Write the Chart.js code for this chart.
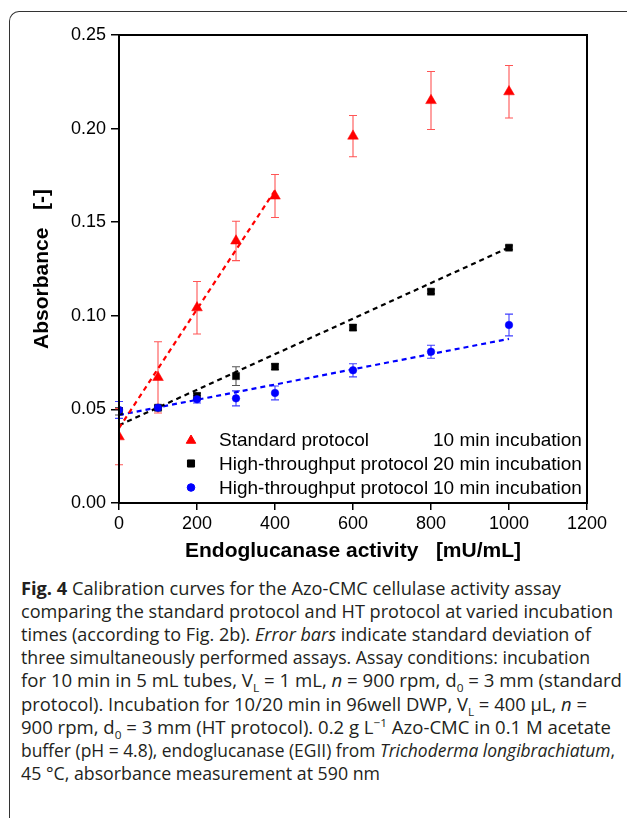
<!DOCTYPE html>
<html><head><meta charset="utf-8">
<script src="https://cdn.jsdelivr.net/npm/chart.js@4.4.0/dist/chart.umd.min.js"></script>
<style>
html,body{margin:0;padding:0;background:#fff;width:627px;height:818px;overflow:hidden;}
#frame{position:absolute;left:9px;top:11px;width:640px;height:900px;border-left:1.5px solid #333;border-top:1.5px solid #333;border-top-left-radius:10px;}
#wrap{position:absolute;left:0;top:0;width:627px;height:570px;}
#caption{position:absolute;left:21px;top:577px;font-family:'Open Sans',sans-serif;font-size:18px;color:#231f20;}
.ln{position:absolute;left:0;white-space:nowrap;transform-origin:0 0;line-height:23.1px;height:23.1px;}
.ln sub,.ln sup{font-size:11.5px;line-height:0;}
b{font-weight:700;}
</style>
</head><body>
<div id="frame"></div>
<div id="wrap"><canvas id="c" width="627" height="570"></canvas></div>
<div id="caption">
<div class="ln" style="top:0px"><b>Fig. 4</b> Calibration curves for the Azo-CMC cellulase activity assay</div>
<div class="ln" style="top:23.1px">comparing the standard protocol and HT protocol at varied incubation</div>
<div class="ln" style="top:46.2px">times (according to Fig. 2b). <i>Error bars</i> indicate standard deviation of</div>
<div class="ln" style="top:69.3px">three simultaneously performed assays. Assay conditions: incubation</div>
<div class="ln" style="top:92.4px">for 10 min in 5 mL tubes, V<sub>L</sub> = 1 mL, <i>n</i> = 900 rpm, d<sub>0</sub> = 3 mm (standard</div>
<div class="ln" style="top:115.5px">protocol). Incubation for 10/20 min in 96well DWP, V<sub>L</sub> = 400 μL, <i>n</i> =</div>
<div class="ln" style="top:138.6px">900 rpm, d<sub>0</sub> = 3 mm (HT protocol). 0.2 g L<sup>−1</sup> Azo-CMC in 0.1 M acetate</div>
<div class="ln" style="top:161.7px">buffer (pH = 4.8), endoglucanase (EGII) from <i>Trichoderma longibrachiatum</i>,</div>
<div class="ln" style="top:184.8px">45 °C, absorbance measurement at 590 nm</div>
</div>
<script>
// ---- data ----
const xValues = [0, 100, 200, 300, 400, 600, 800, 1000];
const stdY   = [0.0354, 0.0671, 0.1043, 0.140, 0.164, 0.196, 0.215, 0.2197];
const stdErr = [0.015, 0.019, 0.014, 0.0105, 0.0115, 0.011, 0.0155, 0.014];
const ht20Y   = [0.049, 0.0509, 0.0572, 0.0678, 0.0728, 0.0937, 0.1129, 0.1364];
const ht20Err = [0.002, 0.001, 0.0015, 0.005, 0.0015, 0.0015, 0.001, 0.001];
const ht10Y   = [0.0497, 0.0509, 0.0554, 0.0559, 0.0588, 0.0709, 0.0808, 0.0951];
const ht10Err = [0.0045, 0.001, 0.002, 0.004, 0.0037, 0.0035, 0.0035, 0.0058];
const fitStdX = [0, 400],  fitStdY = [0.040, 0.167];
const fitHt20X = [0, 1000], fitHt20Y = [0.0415, 0.1365];
const fitHt10X = [0, 1000], fitHt10Y = [0.047, 0.0877];
const xTicks = [0, 200, 400, 600, 800, 1000, 1200];
const yTicks = [0, 0.05, 0.10, 0.15, 0.20, 0.25];
const legendRows = [
  ['Standard protocol', '10 min incubation'],
  ['High-throughput protocol', '20 min incubation'],
  ['High-throughput protocol', '10 min incubation']
];
const xTitle = 'Endoglucanase activity   [mU/mL]';
const yTitle = 'Absorbance   [-]';
const captionWidths = [540, 592, 570, 569, 601, 566, 590, 594, 359];

// ---- caption fit ----
document.querySelectorAll('#caption .ln').forEach((el, i) => {
  const w = el.getBoundingClientRect().width;
  el.style.transform = 'scaleX(' + (captionWidths[i] / w) + ')';
});

const FONT = "'Liberation Sans', Arial, sans-serif";
const toPts = (xs, ys) => xs.map((x, i) => ({x: x, y: ys[i]}));

const markers = [
  {style: 'triangle', radius: 6.2, color: '#ff0000', err: '#ff5555'},
  {style: 'rect', radius: 5, color: '#000000', err: '#555555'},
  {style: 'circle', radius: 3.8, color: '#0000ff', err: '#4040ff'}
];

const boxPlugin = {
  id: 'box',
  afterDraw(chart) {
    const {ctx, chartArea: a} = chart;
    ctx.save();
    ctx.strokeStyle = '#000';
    ctx.lineWidth = 2;
    ctx.strokeRect(a.left, a.top, a.right - a.left, a.bottom - a.top);
    ctx.restore();
  }
};

const errPlugin = {
  id: 'errbars',
  beforeDatasetsDraw(chart) {
    const {ctx} = chart;
    const ys = chart.scales.y;
    chart.data.datasets.forEach((ds, i) => {
      if (!ds.errs) return;
      const meta = chart.getDatasetMeta(i);
      ctx.save();
      ctx.strokeStyle = ds.errColor;
      ctx.lineWidth = 1.1;
      meta.data.forEach((el, j) => {
        const v = ds.data[j].y, e = ds.errs[j];
        const t = ys.getPixelForValue(v + e), b = ys.getPixelForValue(v - e);
        const x = el.x;
        ctx.beginPath();
        ctx.moveTo(x, t); ctx.lineTo(x, b);
        ctx.moveTo(x - 4, t); ctx.lineTo(x + 4, t);
        ctx.moveTo(x - 4, b); ctx.lineTo(x + 4, b);
        ctx.stroke();
      });
      ctx.restore();
    });
  }
};

const legendPlugin = {
  id: 'customLegend',
  afterDraw(chart) {
    const {ctx, chartArea: a} = chart;
    const mx = a.left + 72, tx = a.left + 100, tx2 = a.left + 314;
    const base = [a.bottom - 57, a.bottom - 33.5, a.bottom - 9.5];
    const my = [a.bottom - 62.5, a.bottom - 39.5, a.bottom - 15.5];
    ctx.save();
    ctx.font = '19px ' + FONT;
    ctx.fillStyle = '#000';
    ctx.textBaseline = 'alphabetic';
    legendRows.forEach((row, i) => {
      const m = markers[i];
      ctx.fillStyle = m.color;
      ctx.strokeStyle = m.color;
      Chart.helpers.drawPoint(ctx, {pointStyle: m.style, radius: i === 0 ? 5.5 : m.radius, borderWidth: 0.5}, mx, my[i]);
      ctx.fillStyle = '#000';
      ctx.fillText(row[0], tx, base[i]);
      ctx.fillText(row[1], tx2, base[i]);
    });
    ctx.restore();
  }
};

const pointDs = (label, ys, errs, m, order) => ({
  type: 'scatter', label: label, data: toPts(xValues, ys), errs: errs, errColor: m.err,
  pointStyle: m.style, pointRadius: m.radius, backgroundColor: m.color, borderColor: m.color,
  pointBorderWidth: 0.5, showLine: false, order: order
});
const fitDs = (xs, ys, color) => ({
  type: 'line', data: toPts(xs, ys), borderColor: color, borderWidth: 2.2, borderDash: [5, 4],
  pointRadius: 0, fill: false, showLine: true, tension: 0, order: 5
});

new Chart(document.getElementById('c'), {
  type: 'scatter',
  data: {
    datasets: [
      pointDs('High-throughput protocol 10 min incubation', ht10Y, ht10Err, markers[2], 0),
      pointDs('High-throughput protocol 20 min incubation', ht20Y, ht20Err, markers[1], 1),
      pointDs('Standard protocol 10 min incubation', stdY, stdErr, markers[0], 2),
      fitDs(fitStdX, fitStdY, '#ff0000'),
      fitDs(fitHt20X, fitHt20Y, '#000000'),
      fitDs(fitHt10X, fitHt10Y, '#0000ff')
    ]
  },
  options: {
    responsive: false, animation: false, devicePixelRatio: 1, events: [],
    plugins: {legend: {display: false}, tooltip: {enabled: false}},
    layout: {padding: {left: 0, top: 35, right: 40, bottom: 0}},
    scales: {
      x: {
        type: 'linear', min: 0, max: 1200,
        afterBuildTicks: s => { s.ticks = xTicks.map(v => ({value: v})); },
        afterFit: s => { s.height = 67; },
        ticks: {font: {family: FONT, size: 18}, color: '#000', padding: 3, maxRotation: 0, autoSkip: false,
                callback: v => String(v)},
        grid: {display: true, drawOnChartArea: false, drawTicks: true, tickLength: 7, color: '#000', lineWidth: 1.5},
        border: {display: true, color: '#000', width: 2},
        title: {display: true, text: xTitle, color: '#000', font: {family: FONT, size: 21, weight: 'bold'},
                padding: {top: 0, bottom: 6}}
      },
      y: {
        type: 'linear', min: 0, max: 0.25,
        afterBuildTicks: s => { s.ticks = yTicks.map(v => ({value: v})); },
        afterFit: s => { s.width = 119; },
        ticks: {font: {family: FONT, size: 18}, color: '#000', padding: 5, autoSkip: false,
                callback: v => Number(v).toFixed(2)},
        grid: {display: true, drawOnChartArea: false, drawTicks: true, tickLength: 8, color: '#000', lineWidth: 1.5},
        border: {display: true, color: '#000', width: 2},
        title: {display: true, text: yTitle, color: '#000', font: {family: FONT, size: 21, weight: 'bold'},
                padding: {top: 30, bottom: 0}}
      }
    }
  },
  plugins: [errPlugin, boxPlugin, legendPlugin]
});
</script>
</body></html>
